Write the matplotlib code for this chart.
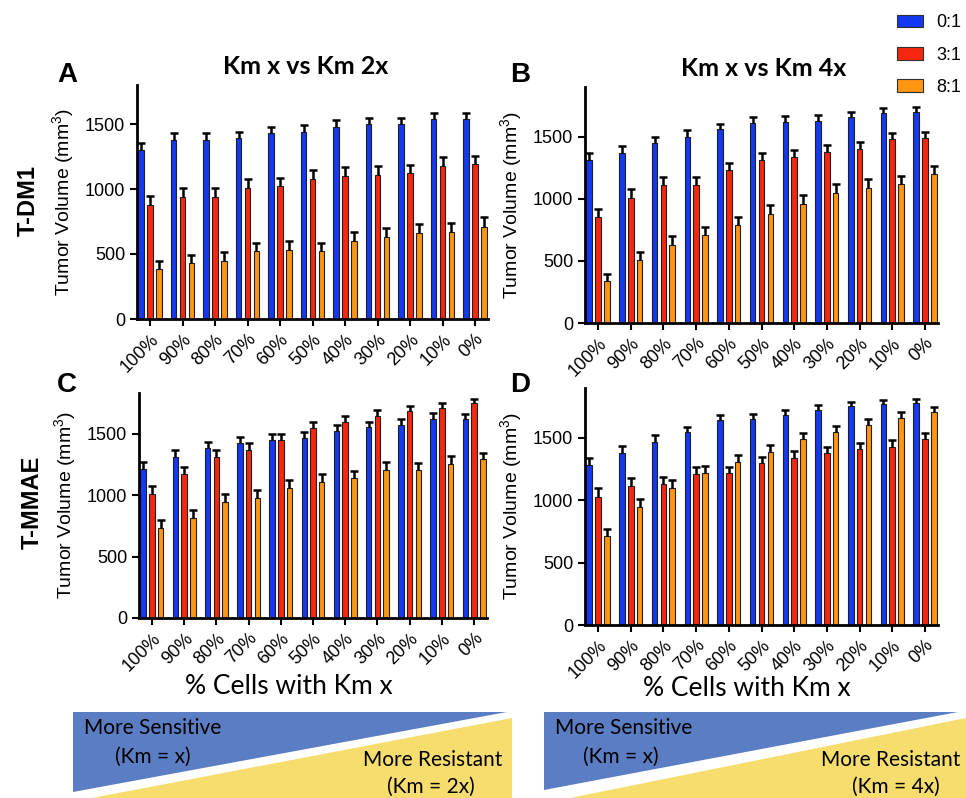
import numpy as np
import matplotlib
matplotlib.use("Agg")
import matplotlib.pyplot as plt
from matplotlib.patches import Polygon, Patch

plt.rcParams['font.family'] = ['Liberation Sans', 'DejaVu Sans']
plt.rcParams['mathtext.fontset'] = 'custom'
plt.rcParams['mathtext.rm'] = 'Liberation Sans'
plt.rcParams['mathtext.it'] = 'Liberation Sans:italic'

categories = ['100%', '90%', '80%', '70%', '60%', '50%', '40%', '30%', '20%', '10%', '0%']
series_labels = ['0:1', '3:1', '8:1']

# Panel A: T-DM1, Km x vs Km 2x
a_blue = [1300, 1380, 1380, 1390, 1430, 1440, 1480, 1500, 1500, 1540, 1540]
a_red = [880, 940, 940, 1010, 1020, 1080, 1100, 1110, 1120, 1180, 1190]
a_orange = [385, 430, 450, 520, 530, 520, 600, 630, 660, 670, 710]
a_blue_err = [55, 50, 50, 50, 50, 50, 50, 50, 50, 45, 45]
a_red_err = [68, 68, 68, 68, 65, 68, 68, 68, 65, 65, 65]
a_orange_err = [60, 65, 65, 68, 68, 65, 68, 70, 72, 72, 75]

# Panel B: T-DM1, Km x vs Km 4x
b_blue = [1310, 1370, 1450, 1500, 1560, 1610, 1620, 1630, 1660, 1690, 1700]
b_red = [850, 1010, 1110, 1110, 1230, 1310, 1340, 1380, 1400, 1480, 1490]
b_orange = [335, 510, 630, 705, 785, 875, 960, 1050, 1090, 1120, 1200]
b_blue_err = [60, 55, 50, 50, 45, 45, 45, 45, 40, 40, 40]
b_red_err = [65, 65, 65, 65, 60, 60, 55, 55, 55, 50, 50]
b_orange_err = [62, 65, 70, 70, 70, 78, 70, 70, 68, 65, 65]

# Panel C: T-MMAE, Km x vs Km 2x
c_blue = [1210, 1310, 1380, 1420, 1450, 1465, 1520, 1550, 1570, 1620, 1620]
c_red = [1010, 1170, 1310, 1370, 1450, 1545, 1595, 1645, 1685, 1710, 1750]
c_orange = [735, 815, 945, 975, 1055, 1110, 1135, 1205, 1200, 1255, 1290]
c_blue_err = [60, 55, 55, 50, 50, 50, 50, 45, 45, 45, 40]
c_red_err = [65, 60, 55, 55, 50, 50, 45, 45, 40, 40, 35]
c_orange_err = [60, 65, 65, 65, 65, 65, 60, 60, 60, 60, 55]

# Panel D: T-MMAE, Km x vs Km 4x
d_blue = [1280, 1380, 1470, 1545, 1640, 1655, 1680, 1725, 1755, 1775, 1780]
d_red = [1030, 1115, 1130, 1210, 1215, 1295, 1340, 1375, 1410, 1430, 1490]
d_orange = [710, 945, 1100, 1220, 1305, 1385, 1490, 1545, 1605, 1660, 1710]
d_blue_err = [60, 55, 50, 45, 45, 40, 40, 40, 35, 30, 30]
d_red_err = [65, 65, 60, 55, 55, 55, 55, 55, 50, 55, 50]
d_orange_err = [60, 65, 60, 55, 55, 55, 50, 50, 50, 45, 40]

colors = ['#1339F2', '#F5280F', '#FF9612']
W, H = 966, 798
fig = plt.figure(figsize=(W / 100, H / 100), dpi=100)

def px_axes(l, t, r, b):
    return fig.add_axes([l / W, 1 - b / H, (r - l) / W, (b - t) / H])

panels = [
    ((137, 85, 488, 319), 1800, (a_blue, a_red, a_orange), (a_blue_err, a_red_err, a_orange_err)),
    ((585, 87, 938, 323), 1900, (b_blue, b_red, b_orange), (b_blue_err, b_red_err, b_orange_err)),
    ((139, 393, 487, 618), 1830, (c_blue, c_red, c_orange), (c_blue_err, c_red_err, c_orange_err)),
    ((585, 388, 938, 625), 1900, (d_blue, d_red, d_orange), (d_blue_err, d_red_err, d_orange_err)),
]

x = np.arange(len(categories))
width = 0.17
offsets = [-0.27, 0.0, 0.27]
for (box, ytop, vals, errs) in panels:
    ax = px_axes(*box)
    for i in range(3):
        ax.bar(x + offsets[i], vals[i], width, color=colors[i], edgecolor='#202020',
               linewidth=0.8, zorder=2, label=series_labels[i])
        eb = ax.errorbar(x + offsets[i], vals[i], yerr=[np.zeros(len(x)), errs[i]], fmt='none',
                         ecolor='black', elinewidth=1.8, capsize=3, capthick=1.8, zorder=3)
        caps = eb[1]
        if len(caps) == 2:
            caps[0].set_visible(False)
    ax.set_xlim(-0.4, 10.4)
    ax.set_ylim(0, ytop)
    ax.set_yticks([0, 500, 1000, 1500])
    ax.set_xticks(x)
    ax.set_xticklabels(categories, rotation=45, ha='right', rotation_mode='anchor', fontsize=13)
    ax.tick_params(axis='y', labelsize=13, width=1.5, length=5)
    ax.tick_params(axis='x', width=1.5, length=5)
    for s in ['top', 'right']:
        ax.spines[s].set_visible(False)
    for s in ['left', 'bottom']:
        ax.spines[s].set_linewidth(2)
    ax.set_ylabel('Tumor Volume (mm$^3$)', fontsize=14, labelpad=6)

# overlay in pixel coordinates for annotations
bg = fig.add_axes([0, 0, 1, 1], zorder=-1)
bg.set_xlim(0, W)
bg.set_ylim(H, 0)
bg.axis('off')

calibri = ['Lato', 'DejaVu Sans']
bg.text(306, 66, 'Km x vs Km 2x', fontsize=18, fontweight='bold', family=calibri, ha='center', va='center')
bg.text(764, 68, 'Km x vs Km 4x', fontsize=18, fontweight='bold', family=calibri, ha='center', va='center')
for lab, (lx, ly) in zip('ABCD', [(67, 75), (520, 75), (67, 385), (520, 385)]):
    bg.text(lx, ly, lab, fontsize=20, fontweight='bold', ha='center', va='center')
bg.text(28, 200, 'T-DM1', fontsize=17, fontweight='bold', rotation=90, ha='center', va='center')
bg.text(32, 502, 'T-MMAE', fontsize=17, fontweight='bold', rotation=90, ha='center', va='center')
bg.text(289, 687, '% Cells with Km x', fontsize=19, family=calibri, ha='center', va='center')
bg.text(747, 688, '% Cells with Km x', fontsize=19, family=calibri, ha='center', va='center')

blue_bg = '#5B7DC3'
yellow_bg = '#F6DD6D'
bg.add_patch(Polygon([(73, 712), (507, 712), (73, 792)], closed=True, color=blue_bg, lw=0))
bg.add_patch(Polygon([(92, 798), (512, 718), (512, 798)], closed=True, color=yellow_bg, lw=0))
bg.add_patch(Polygon([(544, 712), (958, 712), (544, 790)], closed=True, color=blue_bg, lw=0))
bg.add_patch(Polygon([(570, 798), (966, 718), (966, 798)], closed=True, color=yellow_bg, lw=0))

fs_tri = 15
bg.text(84, 728, 'More Sensitive', fontsize=fs_tri, family=calibri, ha='left', va='center')
bg.text(153, 757, '(Km = x)', fontsize=fs_tri, family=calibri, ha='center', va='center')
bg.text(502, 760, 'More Resistant', fontsize=fs_tri, family=calibri, ha='right', va='center')
bg.text(431, 787, '(Km = 2x)', fontsize=fs_tri, family=calibri, ha='center', va='center')
bg.text(555, 728, 'More Sensitive', fontsize=fs_tri, family=calibri, ha='left', va='center')
bg.text(621, 757, '(Km = x)', fontsize=fs_tri, family=calibri, ha='center', va='center')
bg.text(960, 760, 'More Resistant', fontsize=fs_tri, family=calibri, ha='right', va='center')
bg.text(896, 787, '(Km = 4x)', fontsize=fs_tri, family=calibri, ha='center', va='center')

leg_handles = [Patch(facecolor=c, edgecolor='#303030', linewidth=0.8) for c in colors]
fig.legend(leg_handles, series_labels, loc='upper left', bbox_to_anchor=(890 / W, 1 - 7 / H),
           frameon=False, fontsize=13, handlelength=1.45, handleheight=0.7,
           labelspacing=0.85, handletextpad=0.7, borderaxespad=0)

fig.savefig('out.png', dpi=100)
